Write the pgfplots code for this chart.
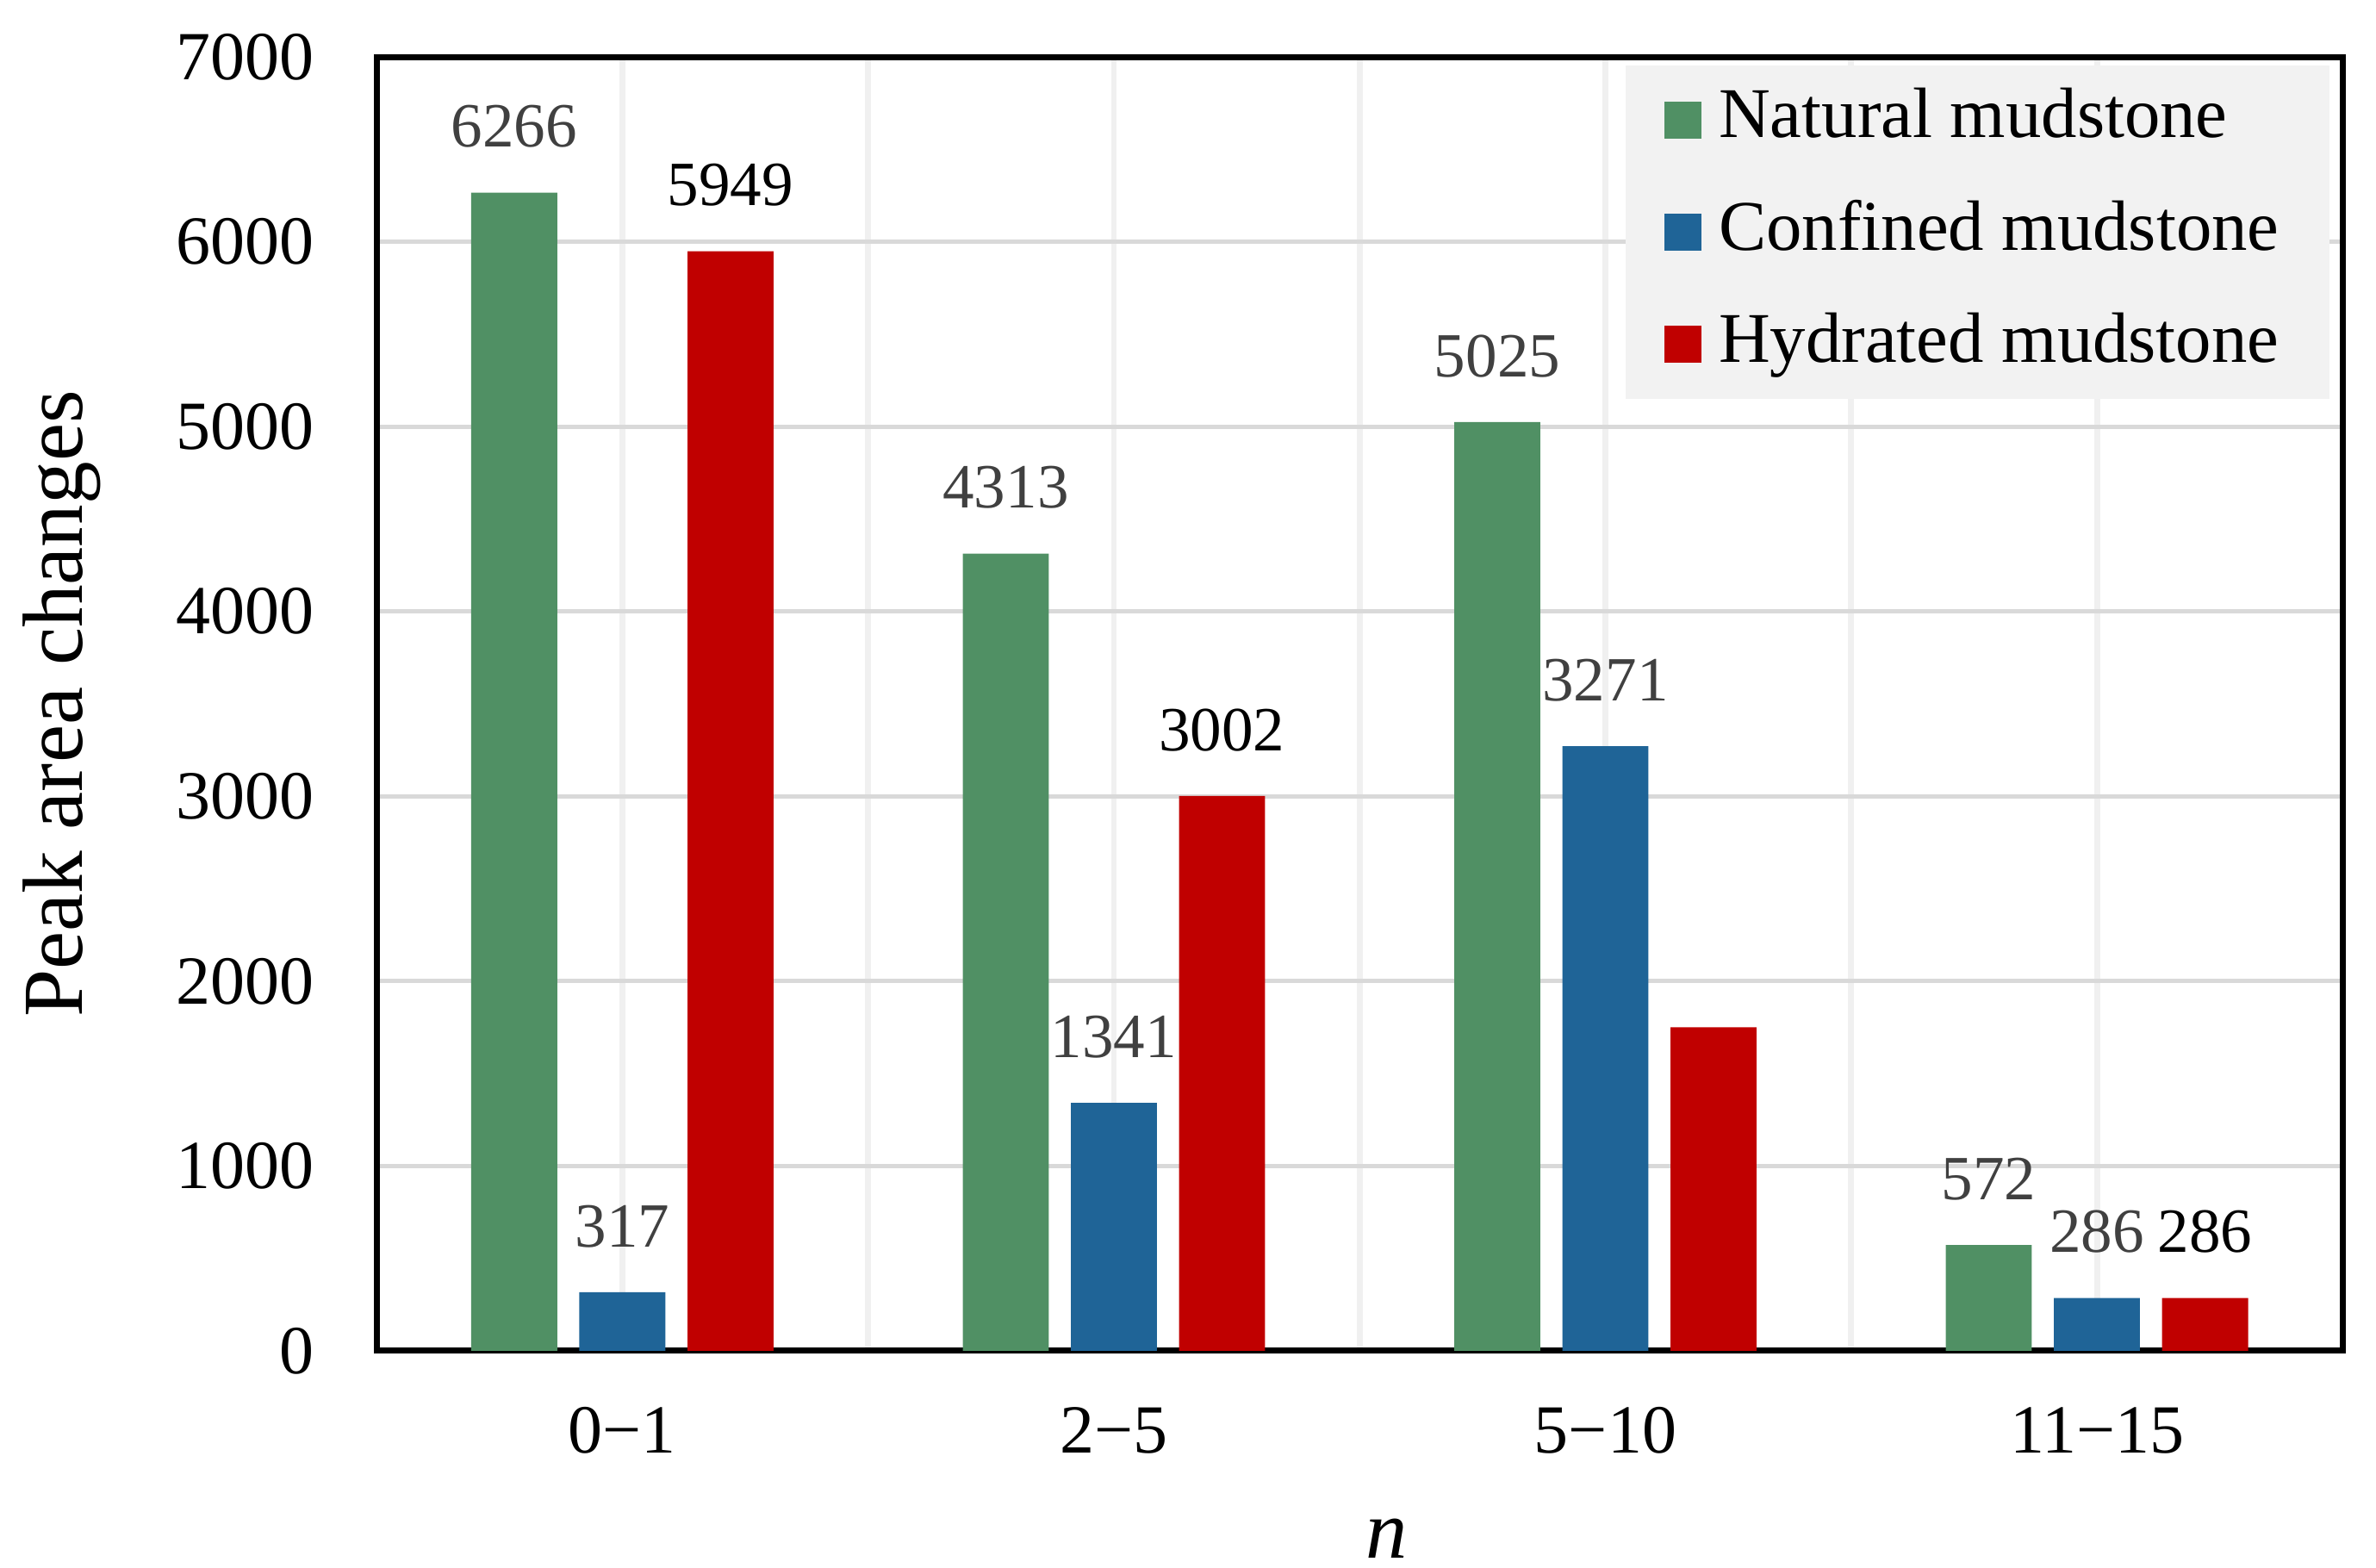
\documentclass[border=0pt]{standalone}
\usepackage{fontspec}
\setmainfont{Liberation Serif}
\usepackage{pgfplots}
\pgfplotsset{compat=1.18}

\definecolor{natgreen}{RGB}{80,144,100}
\definecolor{conblue}{RGB}{31,100,151}
\definecolor{hydred}{RGB}{192,0,0}
\definecolor{lblgray}{RGB}{64,64,64}
\definecolor{legfill}{RGB}{242,242,242}
\definecolor{hgrid}{RGB}{217,217,217}
\definecolor{vgrid}{RGB}{240,240,240}

\pgfplotsset{
  mybar/.style={ybar, bar width=0.35, draw=none,
    point meta=explicit symbolic, nodes near coords,
    nodes near coords style={font=\fontsize{10.6}{12}\selectfont, yshift=4pt},
    legend image code/.code={\fill[##1] (0pt,-3.1pt) rectangle (6.2pt,3.1pt);}},
}

\begin{document}
\begin{tikzpicture}
\begin{axis}[
  at={(0,0)}, anchor=south west,
  scale only axis, width=331pt, height=217.8pt,
  xmin=0, xmax=8, ymin=0, ymax=7000,
  xtick={1,...,7},
  xticklabels={0−1,,2−5,,5−10,,11−15},
  ytick={0,1000,...,7000},
  major tick length=0pt,
  /pgf/number format/assume math mode=true,
  /pgf/number format/set thousands separator={},
  xmajorgrids, ymajorgrids,
  x grid style={vgrid, line width=1pt},
  y grid style={hgrid, line width=0.75pt},
  axis line style={line width=1pt},
  tick label style={font=\fontsize{11.6}{14}\selectfont},
  yticklabel style={xshift=-7pt},
  xticklabel style={yshift=-6pt},
  ylabel={Peak area changes},
  ylabel style={at={(axis description cs:0,0.5)}, anchor=center, yshift=53pt,
    font=\fontsize{14.4}{17}\selectfont},
  xlabel={\textit{n}},
  xlabel style={at={(axis description cs:0.5,0)}, anchor=center, xshift=4.5pt, yshift=-31.6pt,
    font=\fontsize{14}{17}\selectfont},
  legend cell align=left,
  legend style={at={(rel axis cs:1,1)}, anchor=north east, xshift=-2pt, yshift=-1.3pt,
    fill=legfill, draw=none, font=\fontsize{12}{14}\selectfont,
    inner xsep=6.5pt, inner ysep=1.6pt, row sep=3.9pt, column sep=1pt,
    nodes={text height=8.5pt, text depth=2.5pt, inner sep=2pt}},
]
\addplot[mybar, bar shift=-0.44, fill=natgreen, nodes near coords style={text=lblgray, xshift=-18.2pt}]
  coordinates {(1,6266) [6266] (3,4313) [4313] (5,5025) [5025] (7,572) [572]};
\addplot[mybar, bar shift=0, fill=conblue, nodes near coords style={text=lblgray}]
  coordinates {(1,317) [317] (3,1341) [1341] (5,3271) [3271] (7,286) [286]};
\addplot[mybar, bar shift=0.44, fill=hydred, nodes near coords style={text=black, xshift=18.2pt}]
  coordinates {(1,5949) [5949] (3,3002) [3002] (5,1750) [\relax] (7,286) [286]};
\legend{Natural mudstone, Confined mudstone, Hydrated mudstone}
\end{axis}
\pgfresetboundingbox
\path[use as bounding box] (-63.4pt,-36.55pt) rectangle (336.6pt,227.4pt);
\end{tikzpicture}
\end{document}
